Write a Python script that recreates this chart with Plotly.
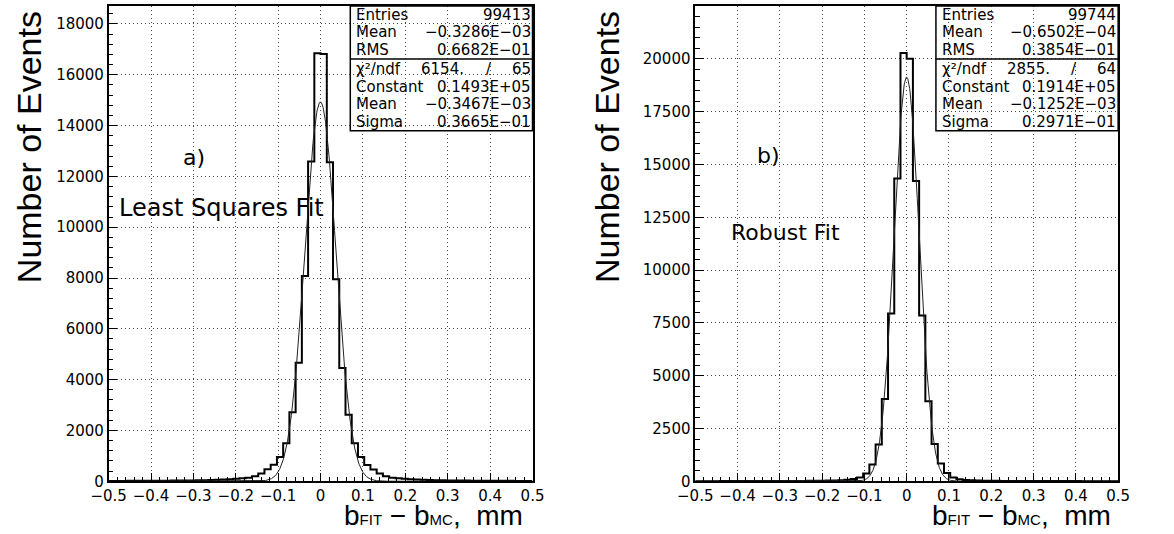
import numpy as np
import plotly.graph_objects as go

W, H = 1174, 534

# ---------------- data ----------------
x_min, x_max = -0.5, 0.5
n_bins = 68

# panel a) Least squares fit: counts per bin, left to right
counts_a = [
    12, 13, 14, 15, 16, 17, 18, 20, 21, 23, 25, 27, 30, 33, 37, 42, 48, 56, 66, 80, 96, 118,
    135, 200, 300, 470, 650, 950, 1500, 2720, 4660, 8080, 12590, 16850,
    16820, 12560, 7950, 4460, 2620, 1500, 950, 640, 460, 300, 200, 135,
    115, 95, 80, 65, 55, 48, 42, 37, 33, 30, 27, 25, 23, 21, 20, 18, 17, 16, 15, 14, 13, 12,
]
# panel b) Robust fit
counts_b = [
    4, 5, 5, 5, 6, 6, 7, 7, 8, 8, 9, 9, 10, 11, 12, 13, 14, 16, 18, 21, 25, 30, 38, 48, 65,
    107, 182, 370, 790, 1740, 3890, 7950, 14340, 20280,
    20010, 14220, 7850, 3790, 1770, 835, 390, 180, 100,
    62, 46, 36, 29, 24, 20, 17, 15, 13, 12, 11, 10, 9, 8, 8, 7, 7, 6, 6, 5, 5, 5, 4, 4, 0,
]

fit_a = dict(const=0.1493e5, mean=-0.3467e-3, sigma=0.3665e-1)
fit_b = dict(const=0.1914e5, mean=-0.1252e-3, sigma=0.2971e-1)

stats_a = [("Entries", "99413"), ("Mean", "−0.3286E−03"), ("RMS", "0.6682E−01"),
           ("χ²/ndf", ("6154.", "/", "65")), ("Constant", "0.1493E+05"),
           ("Mean", "−0.3467E−03"), ("Sigma", "0.3665E−01")]
stats_b = [("Entries", "99744"), ("Mean", "−0.6502E−04"), ("RMS", "0.3854E−01"),
           ("χ²/ndf", ("2855.", "/", "64")), ("Constant", "0.1914E+05"),
           ("Mean", "−0.1252E−03"), ("Sigma", "0.2971E−01")]

x_ticks = [-0.5, -0.4, -0.3, -0.2, -0.1, 0, 0.1, 0.2, 0.3, 0.4, 0.5]
x_ticklabels = ["−0.5", "−0.4", "−0.3", "−0.2", "−0.1", "0", "0.1", "0.2", "0.3", "0.4", "0.5"]
y_ticks_a = [0, 2000, 4000, 6000, 8000, 10000, 12000, 14000, 16000, 18000]
y_ticks_b = [0, 2500, 5000, 7500, 10000, 12500, 15000, 17500, 20000, 22500]
y_max_a, y_max_b = 18700, 22500

# ---------------- figure ----------------
def px(x):
    return x / W

def py(y):
    return 1 - y / H

edges = np.linspace(x_min, x_max, n_bins + 1)
xf = np.linspace(x_min, x_max, 1001)

fig = go.Figure()

for i, (counts, fit) in enumerate([(counts_a, fit_a), (counts_b, fit_b)]):
    xa = "x" if i == 0 else "x2"
    ya = "y" if i == 0 else "y2"
    c = list(counts)
    fig.add_trace(go.Scatter(
        x=list(edges), y=c + [c[-1]], mode="lines", line=dict(shape="hv", color="black", width=2),
        xaxis=xa, yaxis=ya, showlegend=False, hoverinfo="skip"))
    yf = fit["const"] * np.exp(-0.5 * ((xf - fit["mean"]) / fit["sigma"]) ** 2)
    fig.add_trace(go.Scatter(
        x=xf, y=yf, mode="lines", line=dict(color="#222", width=1),
        xaxis=xa, yaxis=ya, showlegend=False, hoverinfo="skip"))

tickfont = dict(family="DejaVu Sans", size=15, color="black")
GRID = dict(showgrid=True, gridcolor="#444", griddash="1px,3px", gridwidth=1)

def xaxis_cfg(domain):
    return dict(domain=domain, range=[x_min, x_max], tickvals=x_ticks, ticktext=x_ticklabels,
                ticks="inside", ticklen=9, tickwidth=1, tickcolor="black",
                minor=dict(dtick=0.02, ticks="inside", ticklen=5, tickcolor="black", showgrid=False),
                showline=True, linecolor="black", linewidth=1.5, mirror=True,
                zeroline=False, tickfont=tickfont, fixedrange=True, **GRID)

def yaxis_cfg(domain, ymax, ticks, minor):
    return dict(domain=domain, range=[0, ymax], tickvals=ticks, ticktext=[str(t) for t in ticks],
                ticks="inside", ticklen=9, tickwidth=1, tickcolor="black",
                minor=dict(dtick=minor, ticks="inside", ticklen=5, tickcolor="black", showgrid=False),
                showline=True, linecolor="black", linewidth=1.5, mirror=True,
                zeroline=False, tickfont=tickfont, fixedrange=True, **GRID)

ydom = [py(489.5), py(6.3)]
fig.update_layout(
    width=W, height=H, margin=dict(l=0, r=0, t=0, b=0),
    paper_bgcolor="white", plot_bgcolor="white",
    xaxis=dict(xaxis_cfg([px(93), px(528)]), anchor="y"),
    yaxis=dict(yaxis_cfg(ydom, y_max_a, y_ticks_a, 400), anchor="x"),
    xaxis2=dict(xaxis_cfg([px(695), px(1129)]), anchor="y2"),
    yaxis2=dict(yaxis_cfg(ydom, y_max_b, y_ticks_b, 500), anchor="x2"),
)

annotations = []
shapes = []

def add_text(x, y, text, size, xanchor="center", angle=0, family="DejaVu Sans", yanchor="middle"):
    annotations.append(dict(x=px(x), y=py(y), xref="paper", yref="paper", text=text,
                            showarrow=False, xanchor=xanchor, yanchor=yanchor, textangle=angle,
                            borderpad=0, font=dict(family=family, size=size, color="black")))

for stats, x0, x1 in [(stats_a, 341, 528), (stats_b, 942, 1129)]:
    shapes.append(dict(type="rect", xref="paper", yref="paper", x0=px(x0), x1=px(x1),
                       y0=py(133), y1=py(6), line=dict(color="black", width=1.5)))
    shapes.append(dict(type="line", xref="paper", yref="paper", x0=px(x0), x1=px(x1),
                       y0=py(60), y1=py(60), line=dict(color="black", width=1.5)))
    rows_y = [15, 33, 51, 70, 88, 106, 124]
    for (lab, val), yy in zip(stats, rows_y):
        add_text(x0 + 5, yy, lab, 15, xanchor="left")
        if isinstance(val, tuple):
            add_text(x0 + 95, yy, val[0], 15)
            add_text(x0 + 142, yy, val[1], 15)
            add_text(x1 - 1, yy, val[2], 15, xanchor="right")
        else:
            add_text(x1 - 1, yy, val, 15, xanchor="right")

add_text(168, 160, "a)", 22, xanchor="left")
add_text(757, 158, "b)", 22, xanchor="left")
add_text(103, 212, "Least Squares Fit", 24, xanchor="left")
add_text(731, 236, "Robust Fit", 22, xanchor="left")
add_text(12, 150, "Number of Events", 34, angle=-90, family="Liberation Sans")
add_text(605, 150, "Number of Events", 34, angle=-90, family="Liberation Sans")
sub = '<span style="font-size:15px">{}</span>'
xtitle = "b" + sub.format("FIT") + " − b" + sub.format("MC") + ",  mm"
add_text(426, 541, xtitle, 28, family="Liberation Sans", yanchor="bottom")
add_text(1030, 541, xtitle, 28, family="Liberation Sans", yanchor="bottom")

fig.update_layout(annotations=annotations, shapes=shapes)
fig.write_html("out.html")
